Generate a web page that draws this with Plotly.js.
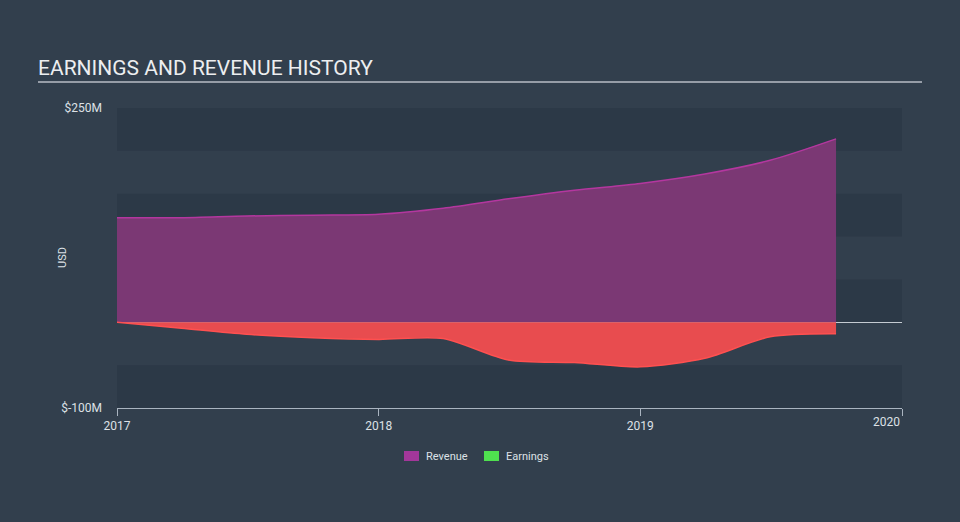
<!DOCTYPE html>
<html>
<head>
<meta charset="utf-8">
<script src="https://cdn.plot.ly/plotly-3.0.1.min.js"></script>
<style>
html,body{margin:0;padding:0;background:#323f4d;}
#chart{width:960px;height:522px;}
</style>
</head>
<body>
<div id="chart"></div>
<script>
// Data (values in millions USD)
const dates = ["2017-01-01","2017-04-01","2017-07-01","2017-10-01","2018-01-01","2018-04-01","2018-07-01","2018-10-01","2019-01-01","2019-04-01","2019-07-01","2019-10-01"];
const revenue = [122, 122, 124, 125, 126, 133, 144, 154, 162, 173, 189, 214];
const earnings = [0, -7, -14, -18, -20, -19, -44, -47, -52, -42, -17, -13.5];
const yTickVals = [250, -100];
const yTickText = ["$250M", "$-100M"];
const xTickVals = ["2017-01-01","2018-01-01","2019-01-01","2020-01-01"];
const xTickText = ["2017","2018","2019",""];
const lastXLabel = "2020";
const bandRanges = [[200,250],[100,150],[0,50],[-100,-50]];
const legendNames = ["Revenue", "Earnings"];
const legendColors = ["#a3379a", "#4fe04f"];

const traces = [
  {x: dates, y: revenue, type: "scatter", mode: "lines", fill: "tozeroy",
   line: {color: "#b4379f", width: 1.5, shape: "spline", smoothing: 0.8},
   fillcolor: "rgba(123,56,116,1)", showlegend: false, hoverinfo: "skip"},
  {x: dates, y: earnings, type: "scatter", mode: "lines", fill: "tozeroy",
   line: {color: "#ff5050", width: 1.5, shape: "spline", smoothing: 0.8},
   fillcolor: "#e84c4f", showlegend: false, hoverinfo: "skip"}
];

const W = 785, H = 300, L = 117, T = 108;
const px = v => (v - L) / W;
const py = v => (T + H - v) / H;

const shapes = bandRanges.map(r => ({
  type: "rect", xref: "paper", yref: "y", x0: 0, x1: 1, y0: r[0], y1: r[1],
  fillcolor: "#2c3947", line: {width: 0}, layer: "below"
}));
shapes.push({type: "line", xref: "paper", yref: "paper", x0: px(38), x1: px(922), y0: py(82), y1: py(82),
  line: {color: "#b8bec6", width: 1.5}});

// custom legend (swatches + text)
const legendSwatchX = [404, 484];
const annotations = [];
legendNames.forEach((n, i) => {
  shapes.push({type: "rect", xref: "paper", yref: "paper",
    x0: px(legendSwatchX[i]), x1: px(legendSwatchX[i] + 15), y0: py(451), y1: py(461),
    fillcolor: legendColors[i], line: {width: 0}});
  annotations.push({text: n, xref: "paper", yref: "paper", x: px(legendSwatchX[i] + 20), y: py(456),
    xanchor: "left", yanchor: "middle", showarrow: false, font: {size: 11, color: "#dde1e6"}});
});
annotations.push({text: "USD", xref: "paper", yref: "paper", x: px(62), y: 0.5, textangle: -90,
  xanchor: "center", yanchor: "middle", showarrow: false, font: {size: 11, color: "#dde1e6"}});
// last x tick label kept inside the plot's right edge
annotations.push({text: lastXLabel, xref: "paper", yref: "paper", x: 1, y: py(422),
  xanchor: "right", yanchor: "middle", showarrow: false, font: {size: 12, color: "#dde1e6"}});

const layout = {
  width: 960, height: 522,
  paper_bgcolor: "#323f4d", plot_bgcolor: "rgba(0,0,0,0)",
  margin: {l: 117, r: 58, t: 108, b: 114},
  font: {family: "Roboto, 'Open Sans', sans-serif", color: "#dde1e6"},
  title: {text: "EARNINGS AND REVENUE HISTORY", x: 38/960, xanchor: "left", xref: "container",
    y: 1 - 68/522, yanchor: "middle", yref: "container",
    font: {size: 21, color: "#eceef0", family: "Roboto, sans-serif"}},
  xaxis: {type: "date", range: ["2017-01-01","2020-01-01"], tickvals: xTickVals, ticktext: xTickText,
    showgrid: false, zeroline: false, showline: true, linecolor: "#aab4c0", linewidth: 1,
    ticks: "outside", ticklen: 7, tickcolor: "#aab4c0", tickfont: {size: 12, color: "#dde1e6"}},
  yaxis: {range: [-100, 250], tickvals: yTickVals, ticktext: yTickText, showgrid: false,
    zeroline: true, zerolinecolor: "#c5cbd2", zerolinewidth: 1, showline: false, ticks: "",
    ticklabelstandoff: 14,
    tickfont: {size: 12, color: "#dde1e6"}},
  shapes: shapes,
  annotations: annotations,
  showlegend: false
};

Plotly.newPlot("chart", traces, layout, {displayModeBar: false, staticPlot: true});
</script>
</body>
</html>
